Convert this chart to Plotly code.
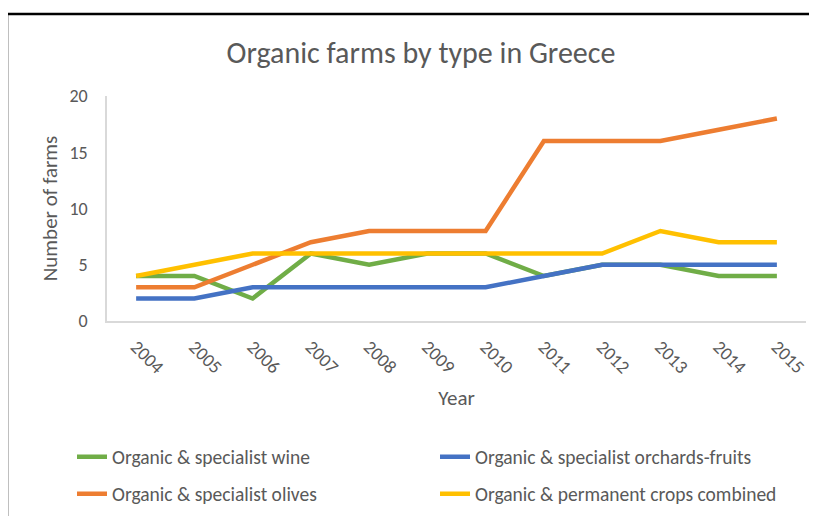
import plotly.graph_objects as go

years = ["2004", "2005", "2006", "2007", "2008", "2009", "2010", "2011", "2012", "2013", "2014", "2015"]
wine = [4, 4, 2, 6, 5, 6, 6, 4, 5, 5, 4, 4]
orchards = [2, 2, 3, 3, 3, 3, 3, 4, 5, 5, 5, 5]
olives = [3, 3, 5, 7, 8, 8, 8, 16, 16, 16, 17, 18]
permanent = [4, 5, 6, 6, 6, 6, 6, 6, 6, 8, 7, 7]

series = [
    ("Organic & specialist wine", wine, "#70AD47", "legend"),
    ("Organic & specialist orchards-fruits", orchards, "#4472C4", "legend"),
    ("Organic & specialist olives", olives, "#ED7D31", "legend2"),
    ("Organic & permanent crops combined", permanent, "#FFC000", "legend2"),
]

FONT = "Carlito, Lato, sans-serif"
GREY = "#595959"

fig = go.Figure()
for name, vals, color, lg in series:
    fig.add_trace(go.Scatter(
        x=years, y=vals, name=name, mode="lines",
        line=dict(color=color, width=4.5),
        legend=lg,
    ))

# the page body adds an 8px offset; work in window pixels and convert
OFF = 8
W, H = 817 - OFF, 516 - OFF
L, T = 107 - OFF, 96 - OFF
RIGHT, BOTTOM = 806 - OFF, 321 - OFF
R, B = W - RIGHT, H - BOTTOM
pw, ph = RIGHT - L, BOTTOM - T

def px_x(p):
    return (p - OFF - L) / pw

def px_y(p):
    return (BOTTOM - (p - OFF)) / ph

legend_common = dict(
    orientation="h", xanchor="left", yanchor="middle",
    font=dict(family=FONT, size=19.5, color=GREY),
    entrywidth=318, entrywidthmode="pixels",
    bgcolor="rgba(0,0,0,0)", itemwidth=30,
)

fig.update_layout(
    width=W, height=H,
    margin=dict(l=L, r=R, t=T, b=B, autoexpand=False),
    paper_bgcolor="white", plot_bgcolor="white",
    font=dict(family=FONT, color=GREY),
    title=dict(text="Organic farms by type in Greece", x=(421 - OFF) / W, xanchor="center",
               y=1 - (52 - OFF) / H, yanchor="middle",
               font=dict(family=FONT, size=30, color=GREY)),
    showlegend=True,
    legend=dict(x=px_x(72), y=px_y(457), **legend_common),
    legend2=dict(x=px_x(72), y=px_y(494), **legend_common),
    xaxis=dict(
        type="category", range=[-0.5, 11.5], automargin=False,
        showline=True, linecolor="#D9D9D9", linewidth=1.5,
        showgrid=False, zeroline=False, ticks="",
        tickangle=45, tickfont=dict(family=FONT, size=18.5, color=GREY),
        ticklabelstandoff=6,
        title=dict(text="Year", font=dict(family=FONT, size=21, color=GREY), standoff=13),
    ),
    yaxis=dict(
        range=[0, 20], dtick=5, automargin=False,
        showline=True, linecolor="#D9D9D9", linewidth=1.5,
        showgrid=False, zeroline=False, ticks="",
        tickfont=dict(family=FONT, size=18, color=GREY),
        ticklabelstandoff=14,
        title=dict(text="Number of farms", font=dict(family=FONT, size=21, color=GREY), standoff=6),
    ),
    shapes=[dict(
        type="rect", xref="paper", yref="paper",
        x0=px_x(7), x1=px_x(830), y0=px_y(530), y1=px_y(14),
        line=dict(color="black", width=2.5), fillcolor="rgba(0,0,0,0)", layer="below",
    )],
)

fig.write_html("out.html")
